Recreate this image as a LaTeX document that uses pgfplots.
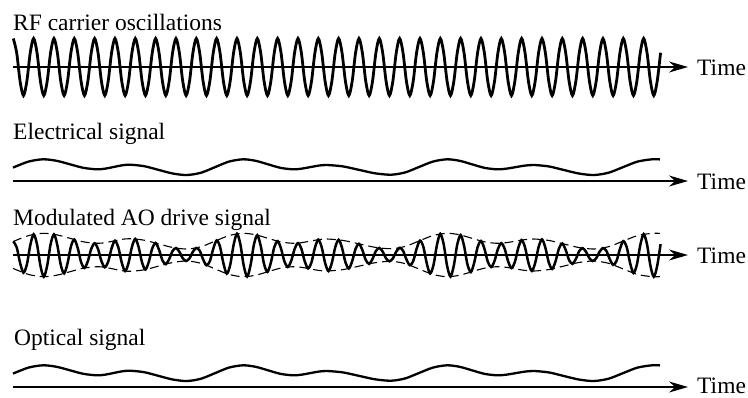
\documentclass[border=0pt]{standalone}
\usepackage{fontspec}
\setmainfont{Liberation Serif}
\usepackage{pgfplots}
\pgfplotsset{compat=1.18}
\usetikzlibrary{arrows.meta}
\begin{document}
\begin{tikzpicture}
\useasboundingbox (0pt,0pt) rectangle (748pt,-397pt);
\pgfplotsset{every axis/.append style={scale only axis, hide axis, clip=false, no markers}}
% ---------- global pixel axis: axis lines, slow signals, envelopes
\begin{axis}[at={(0pt,0pt)}, anchor=north west, width=748pt, height=397pt,
  xmin=0, xmax=748, ymin=0, ymax=397, y dir=reverse]
\addplot[line width=1.6pt, -{Stealth[length=19pt,width=11pt]}] coordinates {(13,67) (688,67)};
\addplot[line width=1.6pt, -{Stealth[length=19pt,width=11pt]}] coordinates {(13,181) (688,181)};
\addplot[line width=1.6pt, -{Stealth[length=19pt,width=11pt]}] coordinates {(13,255) (688,255)};
\addplot[line width=1.6pt, -{Stealth[length=19pt,width=11pt]}] coordinates {(13,387) (688,387)};
% electrical signal
\addplot[line width=2.3pt, smooth] coordinates {(13,167.6)(28.5,161.6)(43,159.3)(56.5,160.76)(70,164.3)(83.5,167.84)(97,169.3)(105.25,168.63)(113.5,167.0)(121.75,165.37)(130,164.7)(144.25,166.2)(158.5,169.85)(172.75,173.5)(187,175.0)(201,172.71)(215,167.15)(229,161.59)(243,159.3)(255.5,160.76)(268,164.3)(280.5,167.84)(293,169.3)(301.5,168.67)(310,167.15)(318.5,165.63)(327,165.0)(343,166.42)(359,169.85)(375,173.28)(391,174.7)(405,172.45)(419,167.0)(433,161.55)(447,159.3)(459.5,160.76)(472,164.3)(484.5,167.84)(497,169.3)(506.25,168.67)(515.5,167.15)(524.75,165.63)(534,165.0)(549,166.46)(564,170.0)(579,173.54)(594,175.0)(608.5,172.71)(623,167.15)(637.5,161.59)(652,159.3)(660,159.4)};
% optical signal
\addplot[line width=2.3pt, smooth] coordinates {(13,373.6)(28.5,367.6)(43,365.3)(56.5,366.76)(70,370.3)(83.5,373.84)(97,375.3)(105.25,374.63)(113.5,373.0)(121.75,371.37)(130,370.7)(144.25,372.2)(158.5,375.85)(172.75,379.5)(187,381.0)(201,378.71)(215,373.15)(229,367.59)(243,365.3)(255.5,366.76)(268,370.3)(280.5,373.84)(293,375.3)(301.5,374.67)(310,373.15)(318.5,371.63)(327,371.0)(343,372.42)(359,375.85)(375,379.28)(391,380.7)(405,378.45)(419,373.0)(433,367.55)(447,365.3)(459.5,366.76)(472,370.3)(484.5,373.84)(497,375.3)(506.25,374.67)(515.5,373.15)(524.75,371.63)(534,371.0)(549,372.46)(564,376.0)(579,379.54)(594,381.0)(608.5,378.71)(623,373.15)(637.5,367.59)(652,365.3)(660,365.4)};
% envelopes of the modulated signal
\addplot[line width=1.1pt, smooth, dash pattern=on 9pt off 5pt] coordinates {(13,241.6)(28.5,235.6)(43,233.3)(56.5,234.76)(70,238.3)(83.5,241.84)(97,243.3)(105.25,242.63)(113.5,241.0)(121.75,239.37)(130,238.7)(144.25,240.2)(158.5,243.85)(172.75,247.5)(187,249.0)(201,246.71)(215,241.15)(229,235.59)(243,233.3)(255.5,234.76)(268,238.3)(280.5,241.84)(293,243.3)(301.5,242.67)(310,241.15)(318.5,239.63)(327,239.0)(343,240.42)(359,243.85)(375,247.28)(391,248.7)(405,246.45)(419,241.0)(433,235.55)(447,233.3)(459.5,234.76)(472,238.3)(484.5,241.84)(497,243.3)(506.25,242.67)(515.5,241.15)(524.75,239.63)(534,239.0)(549,240.46)(564,244.0)(579,247.54)(594,249.0)(608.5,246.71)(623,241.15)(637.5,235.59)(652,233.3)(660,233.4)};
\addplot[line width=1.1pt, smooth, dash pattern=on 9pt off 5pt] coordinates {(13,268.4)(28.5,274.4)(43,276.7)(56.5,275.24)(70,271.7)(83.5,268.16)(97,266.7)(105.25,267.37)(113.5,269.0)(121.75,270.63)(130,271.3)(144.25,269.8)(158.5,266.15)(172.75,262.5)(187,261.0)(201,263.29)(215,268.85)(229,274.41)(243,276.7)(255.5,275.24)(268,271.7)(280.5,268.16)(293,266.7)(301.5,267.33)(310,268.85)(318.5,270.37)(327,271.0)(343,269.58)(359,266.15)(375,262.72)(391,261.3)(405,263.55)(419,269.0)(433,274.45)(447,276.7)(459.5,275.24)(472,271.7)(484.5,268.16)(497,266.7)(506.25,267.33)(515.5,268.85)(524.75,270.37)(534,271.0)(549,269.54)(564,266.0)(579,262.46)(594,261.0)(608.5,263.29)(623,268.85)(637.5,274.41)(652,276.7)(660,276.6)};
\end{axis}
% ---------- RF carrier (x in sixths of a period)
\begin{axis}[at={(13.3pt,-97pt)}, anchor=south west, width=650.67pt, height=60pt,
  xmin=0, xmax=192, ymin=-30, ymax=30]
\addplot[line width=2.8pt, smooth] coordinates {
(0,28.5)(1,14.25)(2,-14.25)(3,-28.5)(4,-14.25)(5,14.25)
(6,28.5)(7,14.25)(8,-14.25)(9,-28.5)(10,-14.25)(11,14.25)
(12,28.5)(13,14.25)(14,-14.25)(15,-28.5)(16,-14.25)(17,14.25)
(18,28.5)(19,14.25)(20,-14.25)(21,-28.5)(22,-14.25)(23,14.25)
(24,28.5)(25,14.25)(26,-14.25)(27,-28.5)(28,-14.25)(29,14.25)
(30,28.5)(31,14.25)(32,-14.25)(33,-28.5)(34,-14.25)(35,14.25)
(36,28.5)(37,14.25)(38,-14.25)(39,-28.5)(40,-14.25)(41,14.25)
(42,28.5)(43,14.25)(44,-14.25)(45,-28.5)(46,-14.25)(47,14.25)
(48,28.5)(49,14.25)(50,-14.25)(51,-28.5)(52,-14.25)(53,14.25)
(54,28.5)(55,14.25)(56,-14.25)(57,-28.5)(58,-14.25)(59,14.25)
(60,28.5)(61,14.25)(62,-14.25)(63,-28.5)(64,-14.25)(65,14.25)
(66,28.5)(67,14.25)(68,-14.25)(69,-28.5)(70,-14.25)(71,14.25)
(72,28.5)(73,14.25)(74,-14.25)(75,-28.5)(76,-14.25)(77,14.25)
(78,28.5)(79,14.25)(80,-14.25)(81,-28.5)(82,-14.25)(83,14.25)
(84,28.5)(85,14.25)(86,-14.25)(87,-28.5)(88,-14.25)(89,14.25)
(90,28.5)(91,14.25)(92,-14.25)(93,-28.5)(94,-14.25)(95,14.25)
(96,28.5)(97,14.25)(98,-14.25)(99,-28.5)(100,-14.25)(101,14.25)
(102,28.5)(103,14.25)(104,-14.25)(105,-28.5)(106,-14.25)(107,14.25)
(108,28.5)(109,14.25)(110,-14.25)(111,-28.5)(112,-14.25)(113,14.25)
(114,28.5)(115,14.25)(116,-14.25)(117,-28.5)(118,-14.25)(119,14.25)
(120,28.5)(121,14.25)(122,-14.25)(123,-28.5)(124,-14.25)(125,14.25)
(126,28.5)(127,14.25)(128,-14.25)(129,-28.5)(130,-14.25)(131,14.25)
(132,28.5)(133,14.25)(134,-14.25)(135,-28.5)(136,-14.25)(137,14.25)
(138,28.5)(139,14.25)(140,-14.25)(141,-28.5)(142,-14.25)(143,14.25)
(144,28.5)(145,14.25)(146,-14.25)(147,-28.5)(148,-14.25)(149,14.25)
(150,28.5)(151,14.25)(152,-14.25)(153,-28.5)(154,-14.25)(155,14.25)
(156,28.5)(157,14.25)(158,-14.25)(159,-28.5)(160,-14.25)(161,14.25)
(162,28.5)(163,14.25)(164,-14.25)(165,-28.5)(166,-14.25)(167,14.25)
(168,28.5)(169,14.25)(170,-14.25)(171,-28.5)(172,-14.25)(173,14.25)
(174,28.5)(175,14.25)(176,-14.25)(177,-28.5)(178,-14.25)(179,14.25)
(180,28.5)(181,14.25)(182,-14.25)(183,-28.5)(184,-14.25)(185,14.25)
(186,28.5)(187,14.25)(188,-14.25)(189,-28.5)(190,-14.25)(191,14.25)};
\end{axis}
% ---------- modulated AO drive signal
\begin{axis}[at={(13.3pt,-285pt)}, anchor=south west, width=650.67pt, height=60pt,
  xmin=0, xmax=192, ymin=-30, ymax=30]
\addplot[line width=2.5pt, smooth] coordinates {
(0,13.55)(1,7.81)(2,-7.81)(3,-17.7)(4,-9.6)(5,9.6)
(6,20.7)(7,10.6)(8,-10.6)(9,-21.7)(10,-10.6)(11,10.6)
(12,20.7)(13,9.78)(14,-9.78)(15,-18.4)(16,-8.47)(17,8.47)
(18,15.46)(19,7.11)(20,-7.11)(21,-12.97)(22,-6.18)(23,6.18)
(24,11.75)(25,6.01)(26,-6.01)(27,-12.3)(28,-6.65)(29,6.65)
(30,14.3)(31,7.59)(32,-7.59)(33,-16.06)(34,-8.04)(35,8.04)
(36,16.08)(37,7.66)(38,-7.66)(39,-14.54)(40,-6.63)(41,6.63)
(42,11.96)(43,5.28)(44,-5.28)(45,-9.14)(46,-4.02)(47,4.02)
(48,6.93)(49,3.23)(50,-3.23)(51,-6.0)(52,-3.26)(53,3.26)
(54,7.04)(55,4.32)(56,-4.32)(57,-10.22)(58,-6.19)(59,6.19)
(60,14.55)(61,8.3)(62,-8.3)(63,-18.66)(64,-9.98)(65,9.98)
(66,21.25)(67,10.7)(68,-10.7)(69,-21.54)(70,-10.34)(71,10.34)
(72,19.83)(73,9.18)(74,-9.18)(75,-16.87)(76,-7.69)(77,7.69)
(78,13.87)(79,6.46)(80,-6.46)(81,-11.97)(82,-5.97)(83,5.97)
(84,11.92)(85,6.35)(86,-6.35)(87,-13.47)(88,-7.2)(89,7.2)
(90,15.34)(91,7.84)(92,-7.84)(93,-16.0)(94,-7.81)(95,7.81)
(96,15.24)(97,7.18)(98,-7.18)(99,-13.49)(100,-6.17)(101,6.17)
(102,11.17)(103,5.0)(104,-5.0)(105,-8.84)(106,-3.98)(107,3.98)
(108,7.09)(109,3.35)(110,-3.35)(111,-6.32)(112,-3.37)(113,3.37)
(114,7.16)(115,4.33)(116,-4.33)(117,-10.17)(118,-6.14)(119,6.14)
(120,14.39)(121,8.22)(122,-8.22)(123,-18.48)(124,-9.91)(125,9.91)
(126,21.15)(127,10.69)(128,-10.69)(129,-21.59)(130,-10.4)(131,10.4)
(132,19.99)(133,9.27)(134,-9.27)(135,-17.1)(136,-7.79)(137,7.79)
(138,14.05)(139,6.52)(140,-6.52)(141,-12.04)(142,-5.97)(143,5.97)
(144,11.84)(145,6.24)(146,-6.24)(147,-13.11)(148,-7.0)(149,7.0)
(150,14.91)(151,7.72)(152,-7.72)(153,-15.96)(154,-7.89)(155,7.89)
(156,15.58)(157,7.38)(158,-7.38)(159,-13.93)(160,-6.35)(161,6.35)
(162,11.47)(163,5.09)(164,-5.09)(165,-8.88)(166,-3.94)(167,3.94)
(168,6.87)(169,3.22)(170,-3.22)(171,-6.0)(172,-3.22)(173,3.22)
(174,6.88)(175,4.18)(176,-4.18)(177,-9.82)(178,-5.94)(179,5.94)
(180,13.93)(181,7.99)(182,-7.99)(183,-18.03)(184,-9.73)(185,9.73)
(186,20.88)(187,10.65)(188,-10.65)(189,-21.7)(190,-10.85)(191,10.85)};
\end{axis}
% ---------- texts
\begin{scope}[every node/.style={inner sep=0pt, font=\fontsize{23.5}{28}\selectfont}]
\node[anchor=base west] at (13pt,-30pt) {RF carrier oscillations};
\node[anchor=base west] at (13pt,-139pt) {Electrical signal};
\node[anchor=base west] at (13pt,-225pt) {Modulated AO drive signal};
\node[anchor=base west] at (14pt,-345pt) {Optical signal};
\node[anchor=base west] at (697pt,-75pt) {Time};
\node[anchor=base west] at (697pt,-189pt) {Time};
\node[anchor=base west] at (697pt,-263pt) {Time};
\node[anchor=base west] at (697pt,-393pt) {Time};
\end{scope}
\end{tikzpicture}
\end{document}
